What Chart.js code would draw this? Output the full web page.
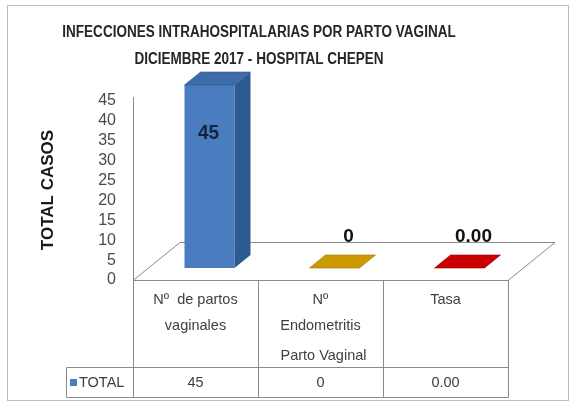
<!DOCTYPE html>
<html>
<head>
<meta charset="utf-8">
<script src="https://cdn.jsdelivr.net/npm/chart.js@4/dist/chart.umd.min.js"></script>
<style>
  html, body { margin: 0; padding: 0; background: #ffffff; }
  #wrap { width: 574px; height: 403px; }
</style>
</head>
<body>
<div id="wrap"><canvas id="c" width="574" height="403"></canvas></div>
<script>
// ---- data ----
const titleLines = ['INFECCIONES INTRAHOSPITALARIAS POR PARTO VAGINAL', 'DICIEMBRE 2017 - HOSPITAL CHEPEN'];
const categories = [['Nº  de partos', 'vaginales'], ['Nº', 'Endometritis'], ['Tasa']];
const seriesName = 'TOTAL';
const values = [45, 0, 0];
const decimals = [0, 0, 2];
const yTicks = [0, 5, 10, 15, 20, 25, 30, 35, 40, 45];
const xAxisTitle = 'Parto Vaginal';
const yAxisTitle = 'TOTAL CASOS';

// ---- styles ----
const barColors = ['#4A7CC0', '#CC9900', '#CC0000'];
const sideColors = ['#2E5A92', '#9E7700', '#990000'];
const topColors = ['#3E6CAB', '#CC9900', '#CC0000'];
const DEPTH = { fx: 14, fy: -12, bx: 16, by: -13, floorX: 47, floorY: -38 };
const lineGray = '#8A8A8A';
const textGray = '#404040';

const formatVal = (v, i) => v.toFixed(decimals[i]);

function condensedText(ctx, text, x, y, sx) {
  ctx.save();
  ctx.translate(x, y);
  ctx.scale(sx, 1);
  ctx.fillText(text, 0, 0);
  ctx.restore();
}

const plugin3d = {
  id: 'plugin3d',
  beforeDraw(chart) {
    const ctx = chart.ctx;
    ctx.save();
    ctx.fillStyle = '#ffffff';
    ctx.fillRect(0, 0, chart.width, chart.height);
    // outer border
    ctx.strokeStyle = '#BEBEBE';
    ctx.lineWidth = 1;
    ctx.strokeRect(7.5, 5.5, 561, 395);
    // title
    ctx.fillStyle = '#262626';
    ctx.font = 'bold 16px "Liberation Sans", sans-serif';
    ctx.textAlign = 'center';
    ctx.textBaseline = 'middle';
    condensedText(ctx, titleLines[0], 259, 33, 0.845);
    condensedText(ctx, titleLines[1], 259, 60, 0.845);
    // y axis title
    ctx.translate(48, 190);
    ctx.rotate(-Math.PI / 2);
    ctx.font = 'bold 17px "Liberation Sans", sans-serif';
    ctx.fillStyle = '#1a1a1a';
    ctx.fillText(yAxisTitle, 0, 0);
    ctx.restore();
  },
  beforeDatasetsDraw(chart) {
    const ctx = chart.ctx;
    const a = chart.chartArea;
    const ys = chart.scales.yt;
    ctx.save();
    // floor
    ctx.beginPath();
    ctx.moveTo(a.left, a.bottom + 0.5);
    ctx.lineTo(a.right, a.bottom + 0.5);
    ctx.lineTo(a.right + DEPTH.floorX, a.bottom + DEPTH.floorY + 0.5);
    ctx.lineTo(a.left + DEPTH.floorX, a.bottom + DEPTH.floorY + 0.5);
    ctx.closePath();
    ctx.fillStyle = '#ffffff';
    ctx.fill();
    ctx.strokeStyle = lineGray;
    ctx.lineWidth = 1;
    ctx.stroke();
    // y axis line
    ctx.beginPath();
    ctx.moveTo(a.left + 0.5, ys.getPixelForValue(yTicks[yTicks.length - 1]) - 4);
    ctx.lineTo(a.left + 0.5, a.bottom);
    ctx.stroke();
    // y tick labels
    ctx.fillStyle = '#4a4a4a';
    ctx.font = '16px "Liberation Sans", sans-serif';
    ctx.textAlign = 'right';
    ctx.textBaseline = 'middle';
    yTicks.forEach(t => ctx.fillText(String(t), 116, ys.getPixelForValue(t)));
    ctx.restore();
  },
  beforeDatasetDraw(chart) {
    chart.ctx.save();
    chart.ctx.translate(DEPTH.fx, DEPTH.fy);
  },
  afterDatasetDraw(chart, args) {
    const ctx = chart.ctx;
    const meta = args.meta;
    meta.data.forEach((el, i) => {
      const p = el.getProps(['x', 'y', 'base', 'width'], true);
      const l = p.x - p.width / 2, r = p.x + p.width / 2;
      const top = Math.min(p.y, p.base), bot = Math.max(p.y, p.base);
      // side face
      if (bot - top > 0.5) {
        ctx.beginPath();
        ctx.moveTo(r, top);
        ctx.lineTo(r + DEPTH.bx, top + DEPTH.by);
        ctx.lineTo(r + DEPTH.bx, bot + DEPTH.by);
        ctx.lineTo(r, bot);
        ctx.closePath();
        ctx.fillStyle = sideColors[i];
        ctx.fill();
      }
      // top face
      ctx.beginPath();
      ctx.moveTo(l, top);
      ctx.lineTo(l + DEPTH.bx, top + DEPTH.by);
      ctx.lineTo(r + DEPTH.bx, top + DEPTH.by);
      ctx.lineTo(r, top);
      ctx.closePath();
      ctx.fillStyle = topColors[i];
      ctx.fill();
      ctx.strokeStyle = sideColors[i];
      ctx.lineWidth = 0.6;
      ctx.stroke();
    });
    // data labels
    meta.data.forEach((el, i) => {
      const p = el.getProps(['x', 'y', 'base'], true);
      ctx.textAlign = 'center';
      ctx.textBaseline = 'middle';
      if (values[i] > 0) {
        ctx.font = 'bold 20px "Liberation Sans", sans-serif';
        ctx.fillStyle = '#13233F';
        condensedText(ctx, formatVal(values[i], i), p.x - 1, p.y + 48, 0.95);
      } else {
        ctx.font = 'bold 19px "Liberation Sans", sans-serif';
        ctx.fillStyle = '#111111';
        ctx.fillText(formatVal(values[i], i), p.x + 14, p.y - 31);
      }
    });
    ctx.restore();
  },
  afterDatasetsDraw(chart) {
    const ctx = chart.ctx;
    const a = chart.chartArea;
    const xs = chart.scales.x;
    const n = categories.length;
    const colW = (a.right - a.left) / n;
    const rowDiv = 367.5, bottom = 397.5, legendLeft = 66.5;
    ctx.save();
    ctx.strokeStyle = lineGray;
    ctx.lineWidth = 1;
    ctx.beginPath();
    for (let i = 0; i <= n; i++) {
      const x = Math.round(a.left + i * colW) + 0.5;
      ctx.moveTo(x, a.bottom);
      ctx.lineTo(x, bottom);
    }
    ctx.moveTo(legendLeft, rowDiv);
    ctx.lineTo(a.right + 0.5, rowDiv);
    ctx.moveTo(legendLeft, bottom);
    ctx.lineTo(a.right + 0.5, bottom);
    ctx.moveTo(legendLeft, rowDiv);
    ctx.lineTo(legendLeft, bottom);
    ctx.stroke();

    ctx.fillStyle = textGray;
    ctx.font = '14.5px "Liberation Sans", sans-serif';
    ctx.textAlign = 'center';
    ctx.textBaseline = 'middle';
    categories.forEach((lines, i) => {
      const cx = xs.getPixelForValue(i);
      lines.forEach((t, k) => ctx.fillText(t, cx, 300 + k * 26));
      ctx.fillText(formatVal(values[i], i), cx, 383);
    });
    ctx.fillText(xAxisTitle, (a.left + a.right) / 2 + 3, 356);
    // legend key
    ctx.fillStyle = barColors[0];
    ctx.fillRect(70, 379, 7, 7);
    ctx.fillStyle = textGray;
    ctx.textAlign = 'left';
    ctx.fillText(seriesName, 79, 383);
    ctx.restore();
  }
};

new Chart(document.getElementById('c'), {
  type: 'bar',
  data: {
    labels: categories,
    datasets: [{
      label: seriesName,
      data: values,
      backgroundColor: barColors,
      borderWidth: 0,
      barPercentage: 0.4,
      categoryPercentage: 1.0
    }]
  },
  options: {
    responsive: false,
    animation: false,
    devicePixelRatio: 1,
    layout: { padding: { left: 133, right: 66, top: 97, bottom: 123 } },
    scales: {
      x: { display: false, offset: true },
      y: { display: false, min: 0, max: 45 },
      yt: { display: false, min: 0, max: 46, position: 'left' }
    },
    plugins: { legend: { display: false }, tooltip: { enabled: false }, title: { display: false } }
  },
  plugins: [plugin3d]
});
</script>
</body>
</html>
